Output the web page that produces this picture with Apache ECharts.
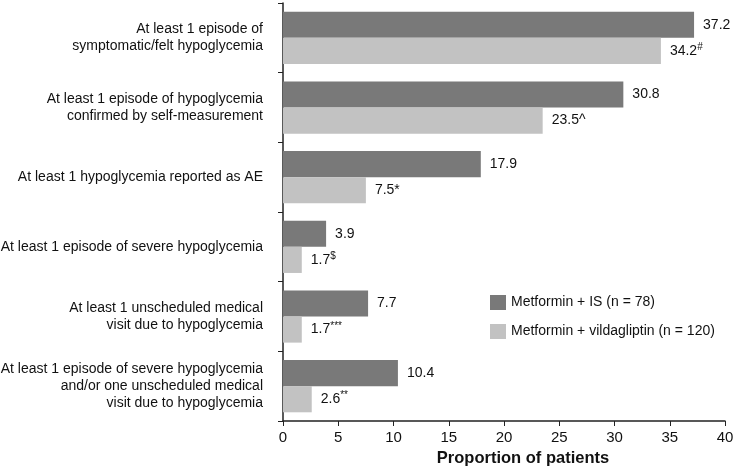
<!DOCTYPE html>
<html><head><meta charset="utf-8">
<script src="https://cdn.jsdelivr.net/npm/echarts@6/dist/echarts.min.js"></script>
<style>html,body{margin:0;padding:0;background:#fff}#c{width:734px;height:470px}</style>
</head><body><div id="c"></div>
<script>
var categories = [
  "At least 1 episode of\nsymptomatic/felt hypoglycemia",
  "At least 1 episode of hypoglycemia\nconfirmed by self-measurement",
  "At least 1 hypoglycemia reported as AE",
  "At least 1 episode of severe hypoglycemia",
  "At least 1 unscheduled medical\nvisit due to hypoglycemia",
  "At least 1 episode of severe hypoglycemia\nand/or one unscheduled medical\nvisit due to hypoglycemia"
];
var seriesNames = ["Metformin + IS (n = 78)", "Metformin + vildagliptin (n = 120)"];
var isValues = [37.2, 30.8, 17.9, 3.9, 7.7, 10.4];
var vildValues = [34.2, 23.5, 7.5, 1.7, 1.7, 2.6];
var vildMarks = ["#", "^", "*", "$", "***", "**"];
var vildMarkSup = [true, false, false, true, true, true];
var xTicks = [0, 5, 10, 15, 20, 25, 30, 35, 40];

var font = "Liberation Sans, Arial, sans-serif";
var chart = echarts.init(document.getElementById('c'));
chart.setOption({
  animation: false,
  textStyle: {fontFamily: font},
  grid: {left: 283, right: 9, top: 3, bottom: 49, containLabel: false, outerBoundsMode: 'none'},
  legend: {
    orient: 'vertical', left: 485, top: 290,
    itemWidth: 16, itemHeight: 15, itemGap: 14, itemTextGap: 7,
    icon: 'rect',
    textStyle: {fontSize: 14, color: '#111', fontFamily: font},
    data: seriesNames
  },
  xAxis: {
    type: 'value', min: xTicks[0], max: xTicks[xTicks.length - 1], interval: 5,
    axisLine: {show: true, lineStyle: {color: '#222', width: 1.5}},
    axisTick: {show: true, length: 5, lineStyle: {color: '#222'}},
    axisLabel: {fontSize: 15, color: '#111', margin: 9},
    splitLine: {show: false},
    name: 'Proportion of patients', nameLocation: 'middle', nameGap: 29,
    nameTextStyle: {fontSize: 16.5, fontWeight: 'bold', color: '#111', fontFamily: font,
      padding: [0, 0, 0, 38]}
  },
  yAxis: {
    type: 'category', inverse: true, data: categories,
    axisLine: {show: true, lineStyle: {color: '#222', width: 1.5}},
    axisTick: {show: true, length: 5, lineStyle: {color: '#222'}},
    axisLabel: {fontSize: 14, color: '#111', margin: 20, lineHeight: 17, align: 'right'}
  },
  series: [
    {
      name: seriesNames[0], type: 'bar', data: isValues,
      barCategoryGap: '25%', barGap: '0%',
      itemStyle: {color: '#797979'},
      label: {show: true, position: 'right', distance: 9, fontSize: 14, color: '#111',
        formatter: function (p) { return p.value.toFixed(1); }}
    },
    {
      name: seriesNames[1], type: 'bar', data: vildValues,
      barCategoryGap: '25%', barGap: '0%',
      itemStyle: {color: '#c2c2c2'},
      label: {show: true, position: 'right', distance: 9, fontSize: 14, color: '#111',
        formatter: function (p) {
          var i = p.dataIndex;
          var v = p.value.toFixed(1);
          return vildMarkSup[i] ? '{n|' + v + '}{s|' + vildMarks[i] + '}' : '{n|' + v + vildMarks[i] + '}';
        },
        rich: {
          n: {fontSize: 14, color: '#111', fontFamily: font},
          s: {fontSize: 10, color: '#111', fontFamily: font, padding: [0, 0, 7, 0]}
        }
      }
    }
  ]
});
</script></body></html>
